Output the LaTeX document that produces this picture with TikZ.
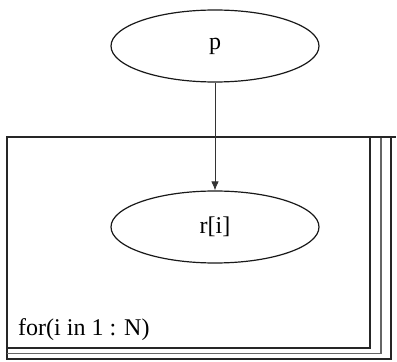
\documentclass[tikz,border=0pt]{standalone}
\usepackage{fontspec}
\setmainfont{Liberation Serif}
\usetikzlibrary{shapes.geometric,arrows.meta}
\begin{document}
\begin{tikzpicture}[x=1pt,y=1pt,
  varnode/.style={draw=black!90,line width=1.2pt,ellipse,minimum width=208pt,minimum height=72pt,inner sep=0pt,font=\fontsize{24}{28}\selectfont},
  plateline/.style={line width=1.3pt,draw=black!85},
  plategray/.style={line width=1.3pt,draw=black!60},
  conn/.style={line width=0.8pt,draw=black!80,-{Latex[length=9pt,width=7.5pt]}}]
\useasboundingbox (0,0) rectangle (397,362);
% plate
\draw[plateline] (7,3) rectangle (391,225);
\draw[plategray] (7,8.5) -- (381,8.5) -- (381,225);
\draw[plateline] (7,14) -- (370,14) -- (370,225);
\draw[plateline] (7,225) -- (396,225);
\node[anchor=base west,font=\fontsize{24}{28}\selectfont,inner sep=0pt] (lbl) at (18,26) {for(i in 1 : N)};
% nodes
\node[varnode] (p) at (215,316) {p};
\node[varnode] (r) at (215,135) {r[i]};
\draw[conn] (p) -- (r);
\end{tikzpicture}
\end{document}
